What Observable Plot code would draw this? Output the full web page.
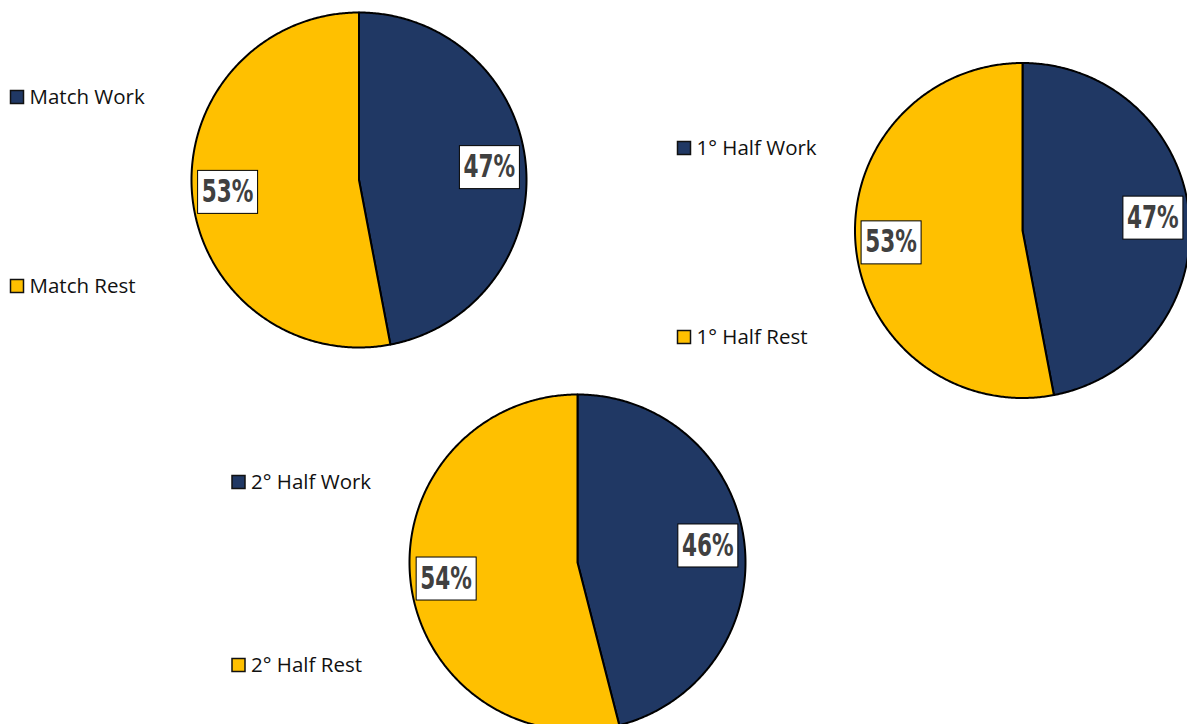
<!DOCTYPE html>
<html><head><meta charset="utf-8">
<script src="https://cdn.jsdelivr.net/npm/d3@7"></script>
<script src="https://cdn.jsdelivr.net/npm/@observablehq/plot@0.6"></script>
<style>body{margin:0;background:#fff}</style>
</head><body><div id="chart"></div>
<script>
// ---- data ----
const pieNames = ["Match", "1° Half", "2° Half"];
const workPct = [47, 47, 46];
const restPct = [53, 53, 54];
const sliceKinds = ["Work", "Rest"];
const legendWork = ["Match Work", "1° Half Work", "2° Half Work"];
const legendRest = ["Match Rest", "1° Half Rest", "2° Half Rest"];

// ---- layout (pixel units) ----
const W = 1187, H = 724;
const layout = [
  {cx: 358.5, cy: 179.5, r: 167.5, legX: 17, legWorkY: 97, legRestY: 286},
  {cx: 1022, cy: 230, r: 167.5, legX: 684, legWorkY: 148, legRestY: 337},
  {cx: 577, cy: 562, r: 168, legX: 238.5, legWorkY: 482, legRestY: 665}
];
const colors = ["#203864", "#FFC000"];

const slicePts = [], boxes = [], labels = [], legSq = [], legTx = [];
pieNames.forEach((name, i) => {
  const L = layout[i];
  const vals = [workPct[i], restPct[i]];
  const total = d3.sum(vals);
  let a = 0;
  vals.forEach((v, j) => {
    const a0 = a / total * 2 * Math.PI, a1 = (a + v) / total * 2 * Math.PI;
    const id = name + "-" + sliceKinds[j];
    slicePts.push({id, kind: sliceKinds[j], x: L.cx, y: L.cy});
    const n = Math.ceil((a1 - a0) / (Math.PI / 360));
    for (let k = 0; k <= n; k++) {
      const t = a0 + (a1 - a0) * k / n;
      slicePts.push({id, kind: sliceKinds[j], x: L.cx + L.r * Math.sin(t), y: L.cy - L.r * Math.cos(t)});
    }
    slicePts.push({id, kind: sliceKinds[j], x: L.cx, y: L.cy});
    const am = (a0 + a1) / 2, lr = L.r * 0.785;
    const lx = L.cx + lr * Math.sin(am), ly = L.cy - lr * Math.cos(am);
    boxes.push({x1: lx - 30, x2: lx + 30, y1: ly - 21.5, y2: ly + 21.5});
    labels.push({x: lx, y: ly, text: Math.round(v / total * 100) + "%"});
    a += v;
  });
  legSq.push({x1: L.legX - 6.5, x2: L.legX + 6.5, y1: L.legWorkY - 6.5, y2: L.legWorkY + 6.5, kind: "Work"});
  legSq.push({x1: L.legX - 6.5, x2: L.legX + 6.5, y1: L.legRestY - 6.5, y2: L.legRestY + 6.5, kind: "Rest"});
  legTx.push({x: L.legX + 12, y: L.legWorkY, text: legendWork[i]});
  legTx.push({x: L.legX + 12, y: L.legRestY, text: legendRest[i]});
});

const xs = d3.scaleLinear().domain([0, W]).range([0, W]);
const ys = d3.scaleLinear().domain([0, H]).range([0, H]);

const chart = Plot.plot({
  width: W, height: H,
  margin: 0,
  x: {domain: xs.domain(), range: xs.range(), axis: null},
  y: {domain: ys.domain(), range: ys.range(), axis: null},
  color: {domain: sliceKinds, range: colors},
  marks: [
    Plot.line(slicePts, {x: "x", y: "y", z: "id", fill: "kind", stroke: "#000", strokeWidth: 2, strokeLinejoin: "round", curve: "linear"}),
    Plot.rect(boxes, {x1: "x1", x2: "x2", y1: "y1", y2: "y2", fill: "#fff", stroke: "#000", strokeWidth: 1}),
    Plot.text(labels, {x: "x", y: "y", text: "text", fill: "#404040", fontSize: 32, fontWeight: "bold", fontFamily: "'DejaVu Sans Condensed', 'DejaVu Sans', sans-serif", className: "pct-label"}),
    Plot.rect(legSq, {x1: "x1", x2: "x2", y1: "y1", y2: "y2", fill: "kind", stroke: "#111", strokeWidth: 1.5}),
    Plot.text(legTx, {x: "x", y: "y", text: "text", textAnchor: "start", fill: "#111", fontSize: 20.5, fontFamily: "'Open Sans', sans-serif"})
  ]
});
// horizontally condense the percentage labels (narrow bold face)
chart.querySelectorAll("g.pct-label").forEach(g => g.removeAttribute("transform"));
chart.querySelectorAll(".pct-label text").forEach((t, i) => {
  const d = labels[i];
  t.removeAttribute("x"); t.removeAttribute("y");
  t.setAttribute("transform", `translate(${xs(d.x)},${ys(d.y) + 1}) scale(0.75,1)`);
  t.setAttribute("dominant-baseline", "middle");
  t.removeAttribute("dy");
});
document.getElementById("chart").append(chart);
</script>
</body></html>
